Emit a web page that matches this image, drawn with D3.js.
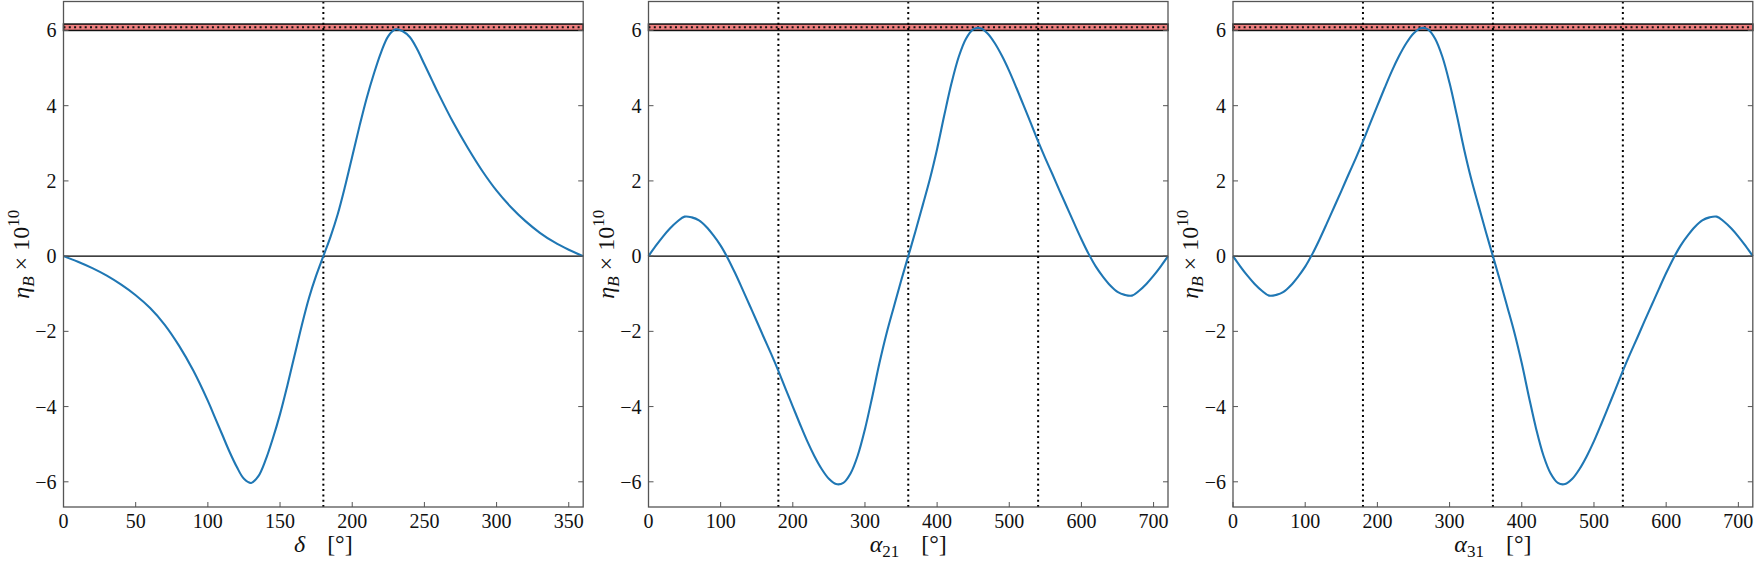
<!DOCTYPE html>
<html>
<head>
<meta charset="utf-8">
<script src="https://cdn.jsdelivr.net/npm/d3@7"></script>
<style>
  body { margin: 0; background: #fff; }
  text { font-family: "Liberation Serif", "DejaVu Serif", serif; fill: #111; }
</style>
</head>
<body>
<svg width="1755" height="561"></svg>
<script>
// eta_B x 10^10 as a function of the phases
var deltaX = [0,10,20,30,40,50,60,70,80,90,100,
  105,110,115,120,125,130,135,140,145,150,155,160,165,170,175,180,
  185,190,195,200,205,210,215,220,225,230,235,240,245,250,255,260,
  270,280,290,300,310,320,330,340,350,360];
var deltaEta = [0,-0.15,-0.32,-0.52,-0.76,-1.04,-1.38,-1.82,-2.38,-3.05,-3.85,
  -4.30,-4.75,-5.20,-5.60,-5.92,-6.03,-5.85,-5.42,-4.85,-4.20,-3.45,-2.65,-1.85,-1.12,-0.52,0,
  0.52,1.12,1.85,2.65,3.45,4.20,4.85,5.42,5.85,6.03,5.98,5.82,5.50,5.10,4.70,4.30,
  3.55,2.88,2.27,1.74,1.30,0.93,0.62,0.37,0.17,0];

var alphaX = [0,10,20,30,40,50,60,70,80,90,100,110,120,130,140,150,160,170,180,
  190,200,210,220,230,240,250,260,270,280,290,300,310,320,330,340,350,360,
  370,380,390,400,410,420,430,440,450,460,470,480,490,500,510,520,530,540,
  550,560,570,580,590,600,610,620,630,640,650,660,670,680,690,700,710,720];
var alpha21Eta = [0,0.27,0.52,0.74,0.92,1.05,1.03,0.95,0.78,0.55,0.28,-0.06,-0.45,-0.87,-1.30,-1.73,-2.17,-2.60,-3.05,
  -3.53,-4.00,-4.47,-4.92,-5.32,-5.66,-5.92,-6.06,-6.03,-5.78,-5.30,-4.60,-3.75,-2.85,-2.05,-1.35,-0.66,0,
  0.66,1.35,2.05,2.85,3.75,4.60,5.30,5.78,6.03,6.06,5.92,5.66,5.32,4.92,4.47,4.00,3.53,3.05,
  2.60,2.17,1.73,1.30,0.87,0.45,0.06,-0.28,-0.55,-0.78,-0.95,-1.03,-1.05,-0.92,-0.74,-0.52,-0.27,0];
var alpha31Eta = [0,-0.27,-0.52,-0.74,-0.92,-1.05,-1.03,-0.95,-0.78,-0.55,-0.28,0.06,0.45,0.87,1.30,1.73,2.17,2.60,3.05,
  3.53,4.00,4.47,4.92,5.32,5.66,5.92,6.06,6.03,5.78,5.30,4.60,3.75,2.85,2.05,1.35,0.66,0,
  -0.66,-1.35,-2.05,-2.85,-3.75,-4.60,-5.30,-5.78,-6.03,-6.06,-5.92,-5.66,-5.32,-4.92,-4.47,-4.00,-3.53,-3.05,
  -2.60,-2.17,-1.73,-1.30,-0.87,-0.45,-0.06,0.28,0.55,0.78,0.95,1.03,1.05,0.92,0.74,0.52,0.27,0];

// observed band
var bandLow = 6.0, bandHigh = 6.17, bandMid = 6.085;

var yTicks = [-6, -4, -2, 0, 2, 4, 6];
var deltaTicks = [0, 50, 100, 150, 200, 250, 300, 350];
var alphaTicks = [0, 100, 200, 300, 400, 500, 600, 700];
var deltaLines = [180];
var alphaLines = [180, 360, 540];

var svg = d3.select("svg");
var top0 = 1.5, bottom0 = 507;

var panels = [
  { x0: 63.5, x1: 583.2, max: 360, xs: deltaX, ys: deltaEta, ticks: deltaTicks, vlines: deltaLines, sym: "δ", sub: "" },
  { x0: 648.5, x1: 1168, max: 720, xs: alphaX, ys: alpha21Eta, ticks: alphaTicks, vlines: alphaLines, sym: "α", sub: "21" },
  { x0: 1233, x1: 1752.8, max: 720, xs: alphaX, ys: alpha31Eta, ticks: alphaTicks, vlines: alphaLines, sym: "α", sub: "31" }
];

panels.forEach(function(p) {
  var x = d3.scaleLinear().domain([0, p.max]).range([p.x0, p.x1]);
  var y = d3.scaleLinear().domain([-6.67, 6.77]).range([bottom0, top0]);
  var g = svg.append("g");

  // band
  g.append("rect")
    .attr("x", x(0)).attr("width", x(p.max) - x(0))
    .attr("y", y(bandHigh)).attr("height", y(bandLow) - y(bandHigh))
    .attr("fill", "#f08080")
    .attr("stroke", "#111")
    .attr("stroke-width", 1.5);
  g.append("line")
    .attr("x1", x(0)).attr("x2", x(p.max))
    .attr("y1", y(bandMid)).attr("y2", y(bandMid))
    .attr("stroke", "#111").attr("stroke-width", 2)
    .attr("stroke-dasharray", "2,3.3");

  // zero line
  g.append("line")
    .attr("x1", x(0)).attr("x2", x(p.max))
    .attr("y1", y(0)).attr("y2", y(0))
    .attr("stroke", "#000").attr("stroke-width", 1.1);

  // vertical dotted lines
  g.selectAll(".vl").data(p.vlines).enter().append("line")
    .attr("x1", function(d) { return x(d); }).attr("x2", function(d) { return x(d); })
    .attr("y1", top0).attr("y2", bottom0)
    .attr("stroke", "#000").attr("stroke-width", 2)
    .attr("stroke-dasharray", "2,3.3");

  // curve
  var line = d3.line()
    .x(function(d, i) { return x(p.xs[i]); })
    .y(function(d) { return y(d); })
    .curve(d3.curveCatmullRom.alpha(0.5));
  g.append("path")
    .attr("d", line(p.ys))
    .attr("fill", "none")
    .attr("stroke", "#1f77b4")
    .attr("stroke-width", 2.1);

  // frame
  g.append("rect")
    .attr("x", p.x0).attr("y", top0)
    .attr("width", p.x1 - p.x0).attr("height", bottom0 - top0)
    .attr("fill", "none").attr("stroke", "#555").attr("stroke-width", 1.3);

  // ticks, inward
  var tl = 5;
  g.selectAll(".yt").data(yTicks).enter().append("path")
    .attr("d", function(d) { return "M" + p.x0 + "," + y(d) + "h" + tl + "M" + p.x1 + "," + y(d) + "h" + (-tl); })
    .attr("stroke", "#555").attr("stroke-width", 1);
  g.selectAll(".xt").data(p.ticks).enter().append("path")
    .attr("d", function(d) { return "M" + x(d) + "," + bottom0 + "v" + (-tl); })
    .attr("stroke", "#555").attr("stroke-width", 1);

  // tick labels
  g.selectAll(".yl").data(yTicks).enter().append("text")
    .attr("x", p.x0 - 7).attr("y", function(d) { return y(d); })
    .attr("dy", "0.35em")
    .attr("text-anchor", "end")
    .attr("font-size", 20)
    .text(function(d) { return d < 0 ? "\u2212" + (-d) : d; });
  g.selectAll(".xl").data(p.ticks).enter().append("text")
    .attr("x", function(d) { return x(d); }).attr("y", 521)
    .attr("dy", "0.35em")
    .attr("text-anchor", "middle")
    .attr("font-size", 20)
    .text(function(d) { return d; });

  // x label
  var xl = g.append("text")
    .attr("x", (p.x0 + p.x1) / 2).attr("y", 552)
    .attr("text-anchor", "middle")
    .attr("font-size", 24);
  xl.append("tspan").attr("font-style", "italic").text(p.sym);
  if (p.sub) xl.append("tspan").attr("font-size", 17).attr("dy", 5).text(p.sub);
  xl.append("tspan").attr("dx", 22).attr("dy", p.sub ? -5 : 0).text("[°]");

  // y label
  var yl = g.append("text")
    .attr("transform", "translate(" + (p.x0 - 35) + "," + ((top0 + bottom0) / 2) + ")rotate(-90)")
    .attr("text-anchor", "middle")
    .attr("font-size", 24);
  yl.append("tspan").attr("font-style", "italic").text("η");
  yl.append("tspan").attr("font-style", "italic").attr("font-size", 17).attr("dy", 5).text("B");
  yl.append("tspan").attr("dy", -5).text(" × 10");
  yl.append("tspan").attr("font-size", 17).attr("dy", -10).text("10");
});
</script>
</body>
</html>
